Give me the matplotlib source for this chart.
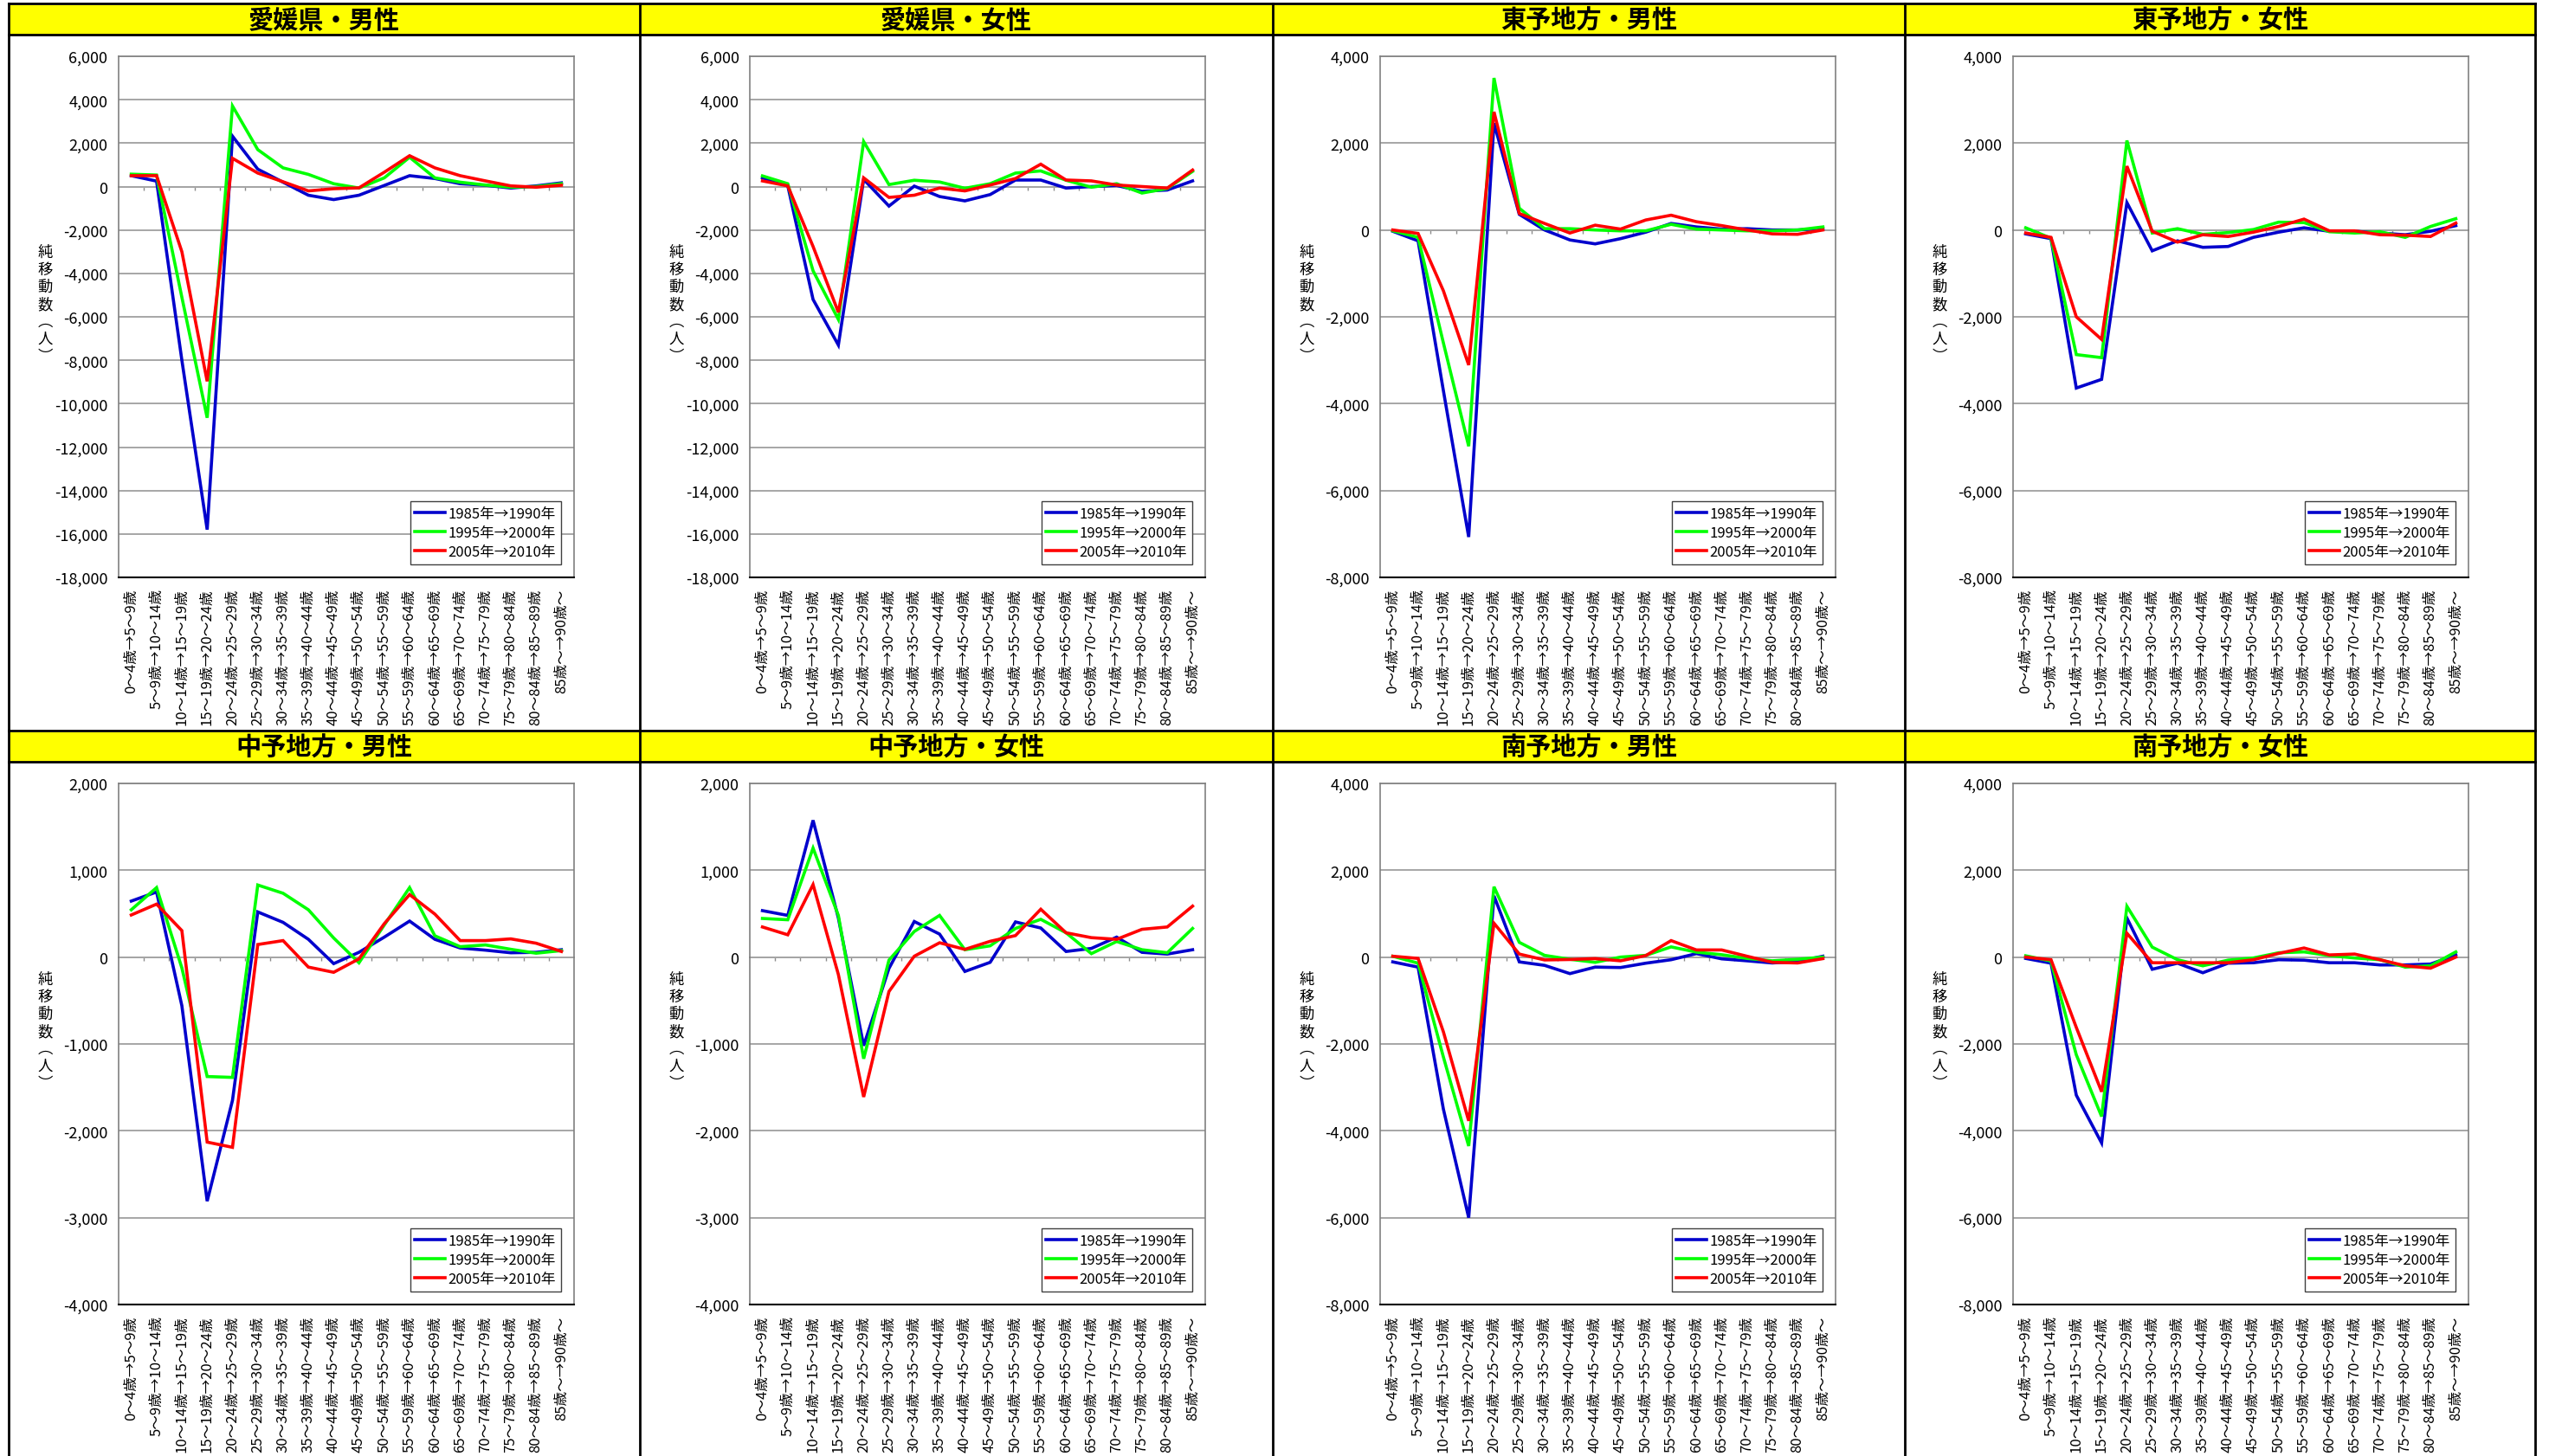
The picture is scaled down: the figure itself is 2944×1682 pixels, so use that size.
import matplotlib
matplotlib.use("Agg")
import matplotlib.pyplot as plt
from matplotlib.patches import Rectangle
from matplotlib.lines import Line2D

plt.rcParams['font.family'] = ['Noto Sans CJK JP', 'DejaVu Sans']

# age groups (cohort moves)
ages = ["0～4歳→5～9歳", "5～9歳→10～14歳", "10～14歳→15～19歳", "15～19歳→20～24歳",
        "20～24歳→25～29歳", "25～29歳→30～34歳", "30～34歳→35～39歳", "35～39歳→40～44歳",
        "40～44歳→45～49歳", "45～49歳→50～54歳", "50～54歳→55～59歳", "55～59歳→60～64歳",
        "60～64歳→65～69歳", "65～69歳→70～74歳", "70～74歳→75～79歳", "75～79歳→80～84歳",
        "80～84歳→85～89歳", "85歳～→90歳～"]

series_names = ["1985年→1990年", "1995年→2000年", "2005年→2010年"]
series_colors = ["#0000CC", "#00FF00", "#FF0000"]

# 愛媛県・男性
ehime_m_85 = [500, 250, -8000, -15800, 2320, 800, 200, -400, -600, -400, 50, 500, 370, 130, 60, -70, 30, 170]
ehime_m_95 = [570, 530, -5100, -10650, 3710, 1700, 860, 560, 130, -70, 400, 1350, 400, 200, 70, -30, 0, 130]
ehime_m_05 = [500, 500, -3000, -8970, 1300, 620, 220, -200, -100, -60, 660, 1420, 860, 500, 260, 30, -30, 60]
# 愛媛県・女性
ehime_f_85 = [400, 40, -5200, -7300, 330, -900, 20, -460, -660, -370, 300, 300, -70, 0, 50, -220, -160, 260]
ehime_f_95 = [490, 130, -3880, -6120, 2070, 90, 290, 210, -80, 130, 620, 720, 290, -30, 130, -300, -90, 700]
ehime_f_05 = [260, 30, -2760, -5790, 400, -500, -400, -70, -200, 70, 370, 1030, 300, 260, 70, 0, -70, 760]
# 東予地方・男性
toyo_m_85 = [-30, -250, -3700, -7070, 2460, 360, 0, -230, -320, -200, -50, 150, 70, 20, 30, 0, 0, 30]
toyo_m_95 = [-20, -170, -2600, -4980, 3500, 500, 30, 30, 0, -20, -20, 130, 20, 0, -20, -20, 0, 70]
toyo_m_05 = [0, -80, -1400, -3110, 2720, 380, 150, -70, 110, 20, 230, 340, 190, 100, 0, -90, -100, 0]
# 東予地方・女性
toyo_f_85 = [-90, -200, -3640, -3440, 630, -480, -250, -400, -380, -170, -50, 50, -30, -30, -70, -110, -30, 100]
toyo_f_95 = [50, -190, -2870, -2940, 2060, -70, 30, -100, -60, 10, 180, 170, -40, -70, -40, -170, 80, 260]
toyo_f_05 = [-70, -170, -2000, -2520, 1470, -30, -280, -110, -150, -50, 80, 250, -20, -20, -110, -120, -150, 160]
# 中予地方・男性
chuyo_m_85 = [645, 750, -560, -2810, -1650, 520, 400, 205, -75, 55, 230, 415, 205, 105, 80, 50, 55, 85]
chuyo_m_95 = [545, 800, -125, -1375, -1385, 830, 735, 545, 220, -65, 370, 800, 245, 120, 140, 90, 45, 75]
chuyo_m_05 = [485, 610, 305, -2130, -2190, 145, 190, -115, -175, -20, 385, 720, 495, 190, 190, 210, 160, 65]
# 中予地方・女性
chuyo_f_85 = [535, 480, 1575, 450, -1020, -130, 410, 265, -165, -60, 405, 335, 65, 100, 230, 55, 35, 85]
chuyo_f_95 = [445, 430, 1255, 480, -1170, -35, 295, 480, 85, 130, 330, 435, 280, 40, 180, 85, 50, 330]
chuyo_f_05 = [347, 257, 835, -200, -1610, -396, 10, 165, 89, 182, 248, 551, 280, 224, 205, 320, 347, 587]
# 南予地方・男性
nanyo_m_85 = [-110, -230, -3500, -6000, 1410, -110, -190, -380, -230, -240, -140, -60, 80, -40, -85, -135, -100, 20]
nanyo_m_95 = [20, -140, -2300, -4350, 1620, 340, 40, -50, -120, 0, 40, 235, 115, 55, -30, -85, -50, 0]
nanyo_m_05 = [20, -30, -1720, -3770, 780, 70, -65, -55, -35, -85, 35, 380, 165, 165, 20, -120, -135, -35]
# 南予地方・女性
nanyo_f_85 = [-30, -140, -3180, -4280, 900, -280, -140, -360, -140, -130, -60, -70, -130, -130, -180, -180, -160, 50]
nanyo_f_95 = [30, -90, -2250, -3670, 1170, 230, -60, -200, -70, -20, 100, 120, 35, -20, -60, -230, -200, 120]
nanyo_f_05 = [0, -60, -1620, -3100, 550, -130, -130, -130, -130, -60, 85, 210, 50, 70, -60, -200, -255, 0]

titles = ["愛媛県・男性", "愛媛県・女性", "東予地方・男性", "東予地方・女性",
          "中予地方・男性", "中予地方・女性", "南予地方・男性", "南予地方・女性"]
panel_data = [(ehime_m_85, ehime_m_95, ehime_m_05), (ehime_f_85, ehime_f_95, ehime_f_05),
              (toyo_m_85, toyo_m_95, toyo_m_05), (toyo_f_85, toyo_f_95, toyo_f_05),
              (chuyo_m_85, chuyo_m_95, chuyo_m_05), (chuyo_f_85, chuyo_f_95, chuyo_f_05),
              (nanyo_m_85, nanyo_m_95, nanyo_m_05), (nanyo_f_85, nanyo_f_95, nanyo_f_05)]
y_ranges = [(-18000, 6000, 2000), (-18000, 6000, 2000), (-8000, 4000, 2000), (-8000, 4000, 2000),
            (-4000, 2000, 1000), (-4000, 2000, 1000), (-8000, 4000, 2000), (-8000, 4000, 2000)]

# layout in pixels (from top left)
W, H = 2944, 1683
col_x = [10, 739, 1470, 2200, 2928]
title_top = [7, 847]
title_h = 34
axes_top = [66, 906]
axes_h = 602
axes_left = [137, 866, 1594, 2325]
axes_w = 526

fig = plt.figure(figsize=(W / 100, H / 100), dpi=100)


def figBox(x, y, w, h):
    return [x / W, 1 - (y + h) / H, w / W, h / H]


# yellow title bars and black frame
for r in range(2):
    for c in range(4):
        b = figBox(col_x[c], title_top[r], col_x[c + 1] - col_x[c], title_h)
        fig.patches.append(Rectangle((b[0], b[1]), b[2], b[3], transform=fig.transFigure,
                                     facecolor="#FFFF00", edgecolor="none", zorder=0))
        fig.text(b[0] + b[2] / 2, b[1] + b[3] / 2, titles[r * 4 + c], ha="center", va="center",
                 fontsize=21, fontweight="bold")
for y in [5, 41, 845, 881]:
    fig.add_artist(Line2D([col_x[0] / W, col_x[-1] / W], [1 - y / H, 1 - y / H], color="black", lw=2))
for x in col_x:
    fig.add_artist(Line2D([x / W, x / W], [1 - 5 / H, 0], color="black", lw=2))

for k in range(8):
    r, c = k // 4, k % 4
    ax = fig.add_axes(figBox(axes_left[c], axes_top[r], axes_w, axes_h))
    ymin, ymax, step = y_ranges[k]
    xs = list(range(len(ages)))

    for vals, name, col in zip(panel_data[k], series_names, series_colors):
        ax.plot(xs, vals, color=col, lw=2.6, label=name, solid_joinstyle="miter")

    ax.set_xlim(-0.5, len(ages) - 0.5)
    ax.set_ylim(ymin, ymax)
    ax.set_yticks(range(ymin, ymax + 1, step))
    ax.set_yticklabels([f"{v:,}" for v in range(ymin, ymax + 1, step)], fontsize=13)
    ax.set_xticks(xs)
    ax.set_xticklabels(ages, rotation=90, fontsize=12)
    ax.tick_params(axis="both", length=0)
    ax.tick_params(axis="y", pad=9)
    ax.tick_params(axis="x", pad=9)
    ax.yaxis.grid(True, color="#a6a6a6", lw=1.4)
    ax.set_axisbelow(True)
    for s in ["top", "right", "left"]:
        ax.spines[s].set_color("#808080")
        ax.spines[s].set_linewidth(1.2)
    ax.spines["bottom"].set_color("black")
    ax.spines["bottom"].set_linewidth(1.5)

    ax.text(-85 / axes_w, 0.525, "純\n移\n動\n数\n︵\n人\n︶", transform=ax.transAxes,
            ha="center", va="center", fontsize=12.5, linespacing=1.15)

    leg = ax.legend(loc="lower right", fontsize=12, handlelength=2.1, handletextpad=0.2,
                    labelspacing=0.3, borderpad=0.35, borderaxespad=0.9,
                    fancybox=False, framealpha=1, edgecolor="#404040")
    leg.get_frame().set_linewidth(1.0)

    # zero line with category tick marks
    ax2 = ax.twiny()
    ax2.set_xlim(ax.get_xlim())
    for s in ["top", "left", "right"]:
        ax2.spines[s].set_visible(False)
    ax2.spines["bottom"].set_position(("data", 0))
    ax2.spines["bottom"].set_color("#8c8c8c")
    ax2.spines["bottom"].set_linewidth(1.4)
    ax2.xaxis.set_ticks_position("bottom")
    ax2.set_xticks([i + 0.5 for i in range(len(ages) - 1)])
    ax2.tick_params(axis="x", direction="out", length=3, width=1, color="#8c8c8c",
                    labelbottom=False, labeltop=False)
    ax2.set_zorder(ax.get_zorder() - 1)
    ax.set_zorder(ax2.get_zorder() + 1)
    ax.patch.set_visible(False)

fig.savefig("out.png", dpi=100, facecolor="white")
